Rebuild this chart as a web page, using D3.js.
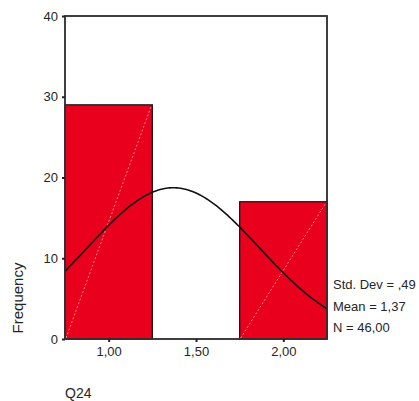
<!DOCTYPE html>
<html>
<head>
<meta charset="utf-8">
<script src="https://cdn.jsdelivr.net/npm/d3@7"></script>
<style>
  html, body { margin: 0; padding: 0; background: #fff; }
  svg { display: block; }
  text { font-family: "Liberation Sans", Arial, sans-serif; fill: #262626; }
</style>
</head>
<body>
<svg id="chart" width="419" height="401"></svg>
<script>
// Histogram of Q24 with fitted normal curve
const binCenters = [1.0, 2.0];
const binCounts = [29, 17];
const binWidth = 0.5;
const xTicks = [1.0, 1.5, 2.0];
const yTicks = [0, 10, 20, 30, 40];
const stdDev = 0.49;
const mean = 1.37;
const nCases = 46;
const statLabels = ["Std. Dev = ,49", "Mean = 1,37", "N = 46,00"];
const xTitle = "Q24";
const yTitle = "Frequency";

const fmtComma = d => d3.format(".2f")(d).replace(".", ",");

const svg = d3.select("#chart");
const plot = { left: 65, right: 327, top: 16, bottom: 339 };

const x = d3.scaleLinear().domain([0.75, 2.25]).range([plot.left, plot.right]);
const y = d3.scaleLinear().domain([0, 40]).range([plot.bottom, plot.top]);

// plot frame
svg.append("rect")
  .attr("x", plot.left).attr("y", plot.top)
  .attr("width", plot.right - plot.left).attr("height", plot.bottom - plot.top)
  .attr("fill", "#fff").attr("stroke", "#333").attr("stroke-width", 1.5);

// bars
const bars = binCenters.map((c, i) => ({ x0: c - binWidth / 2, x1: c + binWidth / 2, n: binCounts[i] }));
svg.append("g").selectAll("rect").data(bars).join("rect")
  .attr("x", d => x(d.x0)).attr("y", d => y(d.n))
  .attr("width", d => x(d.x1) - x(d.x0)).attr("height", d => y(0) - y(d.n))
  .attr("fill", "#e8001c").attr("stroke", "#111").attr("stroke-width", 1.2);

// dotted diagonal inside each bar
svg.append("g").selectAll("line").data(bars).join("line")
  .attr("x1", d => x(d.x0) + 1).attr("y1", y(0) - 1)
  .attr("x2", d => x(d.x1) - 1).attr("y2", d => y(d.n) + 1)
  .attr("stroke", "#f48a96").attr("stroke-width", 1).attr("stroke-dasharray", "2,2");

// fitted normal curve, scaled to counts
const pdf = v => Math.exp(-0.5 * ((v - mean) / stdDev) ** 2) / (stdDev * Math.sqrt(2 * Math.PI));
const curveX = d3.range(0.75, 2.2501, 0.01);
svg.append("path")
  .datum(curveX)
  .attr("d", d3.line().x(v => x(v)).y(v => y(nCases * binWidth * pdf(v))))
  .attr("fill", "none").attr("stroke", "#111").attr("stroke-width", 1.6);

// frame outline on top
svg.append("rect")
  .attr("x", plot.left).attr("y", plot.top)
  .attr("width", plot.right - plot.left).attr("height", plot.bottom - plot.top)
  .attr("fill", "none").attr("stroke", "#333").attr("stroke-width", 1.5);

// axes
const yAxis = d3.axisLeft(y).tickValues(yTicks).tickSize(3).tickPadding(4).tickFormat(d3.format("d"));
const gy = svg.append("g").attr("transform", `translate(${plot.left},0)`).call(yAxis);
const xAxis = d3.axisBottom(x).tickValues(xTicks).tickSize(3).tickPadding(5).tickFormat(fmtComma);
const gx = svg.append("g").attr("transform", `translate(0,${plot.bottom})`).call(xAxis);
[gy, gx].forEach(g => {
  g.select(".domain").remove();
  g.selectAll(".tick line").attr("stroke", "#222").attr("stroke-width", 2);
  g.selectAll(".tick text").attr("font-size", 13)
    .attr("font-family", "'Liberation Sans', Arial, sans-serif").attr("fill", "#262626");
});

// statistics legend
svg.append("g").selectAll("text").data(statLabels).join("text")
  .attr("x", 333).attr("y", (d, i) => 289 + i * 21.5)
  .attr("font-size", 13).text(d => d);

// axis titles
svg.append("text").attr("x", 65).attr("y", 398).attr("font-size", 14).text(xTitle);
svg.append("text")
  .attr("transform", "translate(23,298) rotate(-90)")
  .attr("text-anchor", "middle").attr("font-size", 15).attr("fill", "#444")
  .text(yTitle);
</script>
</body>
</html>
